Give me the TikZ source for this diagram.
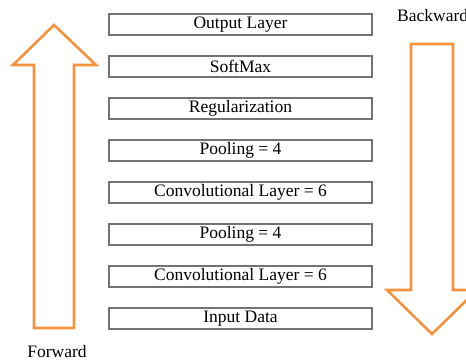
\documentclass[tikz,border=0pt]{standalone}
\usepackage{fontspec}
\setmainfont{Liberation Serif}
\definecolor{flow}{RGB}{245,146,62}
\begin{document}
\begin{tikzpicture}[x=1pt,y=-1pt,
  layerbox/.style={draw=black!55, line width=1.3pt, minimum width=263pt,
    minimum height=21pt, inner sep=0pt, font=\fontsize{17.5}{20}\selectfont},
  flowarrow/.style={draw=flow, line width=2.6pt, line join=miter},
  caption/.style={inner sep=0pt, font=\fontsize{17.5}{20}\selectfont, text=black}]
  \useasboundingbox (0,0) rectangle (466,363);
  \clip (0,0) rectangle (466,363);

  % layer stack, top to bottom
  \foreach \name/\txt [count=\i from 0] in {out/Output Layer, soft/SoftMax,
      reg/Regularization, poolB/Pooling = 4, convB/Convolutional Layer = 6,
      poolA/Pooling = 4, convA/Convolutional Layer = 6, inp/Input Data}
    \node[layerbox] (\name) at (240.5, 24.5+42*\i) {\txt};

  % forward pass arrow (upwards)
  \draw[flowarrow] (54,25) -- (96,65) -- (74,65) -- (74,328) -- (34,328)
    -- (34,65) -- (13,65) -- cycle;
  % backward pass arrow (downwards)
  \draw[flowarrow] (411,44) -- (453,44) -- (453,290) -- (477,290) -- (432,334)
    -- (387,290) -- (411,290) -- cycle;

  \node[caption] (fwd) at (57,352) {Forward};
  \node[caption, anchor=west] (bwd) at (397,16) {Backward};
\end{tikzpicture}
\end{document}
